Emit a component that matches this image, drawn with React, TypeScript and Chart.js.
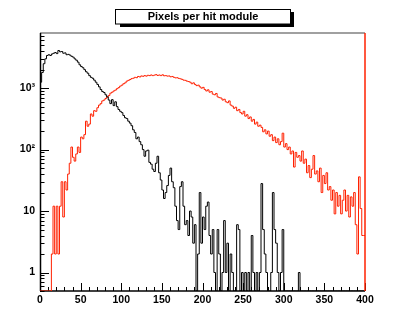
import React, { useEffect, useRef } from 'react';
import { Chart, registerables } from 'chart.js';

Chart.register(...registerables);

const TITLE = 'Pixels per hit module';
const BIN_WIDTH = 2;
const X_MIN = 0;
const X_MAX = 400;
const Y_MIN = 0.5;
const Y_MAX = 7900;
const X_TICK_STEP = 50;
const X_MINOR_STEP = 10;
const Y_TICK_VALUES = [1, 10, 100, 1000];
const Y_TICK_LABELS = ['1', '10', '10²', '10³'];

// black histogram, bins of width 2 starting at 0
const blackCounts = [
  750, 1250, 1800, 2500, 3000, 3400, 3500, 3400, 3600, 3700,
  3800, 3650, 4100, 3900, 3950, 3700, 3750, 3500, 3550, 3450,
  3300, 3200, 3000, 2850, 2650, 2400, 2250, 2150, 2000, 1850,
  1750, 1600, 1500, 1450, 1350, 1250, 1150, 1050, 950, 880,
  850, 780, 720, 640, 560, 650, 520, 600, 500, 450,
  420, 400, 360, 330, 320, 290, 270, 245, 210, 190,
  150, 160, 135, 120, 100, 78, 95, 98, 62, 58,
  48, 44, 60, 78, 42, 32, 22, 16, 20, 26,
  38, 50, 30, 24, 12, 7, 5, 25, 30, 12,
  6, 7, 4, 10, 8, 3, 6, 0, 2, 20,
  3, 8, 5, 12, 14, 4, 2, 5, 1, 0,
  5, 2, 0, 1, 7, 1, 3, 0, 2, 1,
  0, 0, 6, 5, 0, 1, 0, 1, 0, 1,
  0, 4, 1, 0, 1, 0, 1, 28, 5, 2,
  1, 0, 0, 1, 20, 5, 3, 1, 0, 1,
  5, 0, 0, 0, 0, 0, 0, 0, 0, 0,
  1, 0, 0, 0, 0, 0, 0, 0, 0, 0,
  0, 0, 0, 0, 0, 0, 0, 0, 0, 0,
  0, 0, 0, 0, 0, 0, 0, 0, 0, 0,
  0, 0, 0, 0, 0, 0, 0, 0, 0, 0,
];

// red histogram, bins of width 2 starting at 0
const redCounts = [
  0, 0, 0, 0, 0, 0, 0, 0, 2, 12,
  2, 12, 2, 12, 30, 8, 30, 22, 40, 60,
  110, 75, 65, 85, 110, 90, 160, 150, 175, 290,
  240, 260, 380, 350, 430, 420, 480, 530, 560, 620,
  640, 680, 720, 760, 830, 860, 900, 930, 980, 1020,
  1080, 1120, 1180, 1220, 1300, 1340, 1380, 1430, 1450, 1500,
  1480, 1550, 1520, 1580, 1560, 1600, 1570, 1620, 1600, 1640,
  1600, 1630, 1660, 1610, 1640, 1600, 1650, 1590, 1600, 1570,
  1580, 1530, 1550, 1500, 1470, 1480, 1440, 1420, 1390, 1350,
  1340, 1300, 1280, 1250, 1180, 1220, 1150, 1100, 1120, 1050,
  1000, 1030, 950, 900, 940, 860, 880, 800, 780, 820,
  720, 700, 690, 640, 660, 600, 580, 620, 530, 510,
  470, 490, 430, 450, 400, 380, 420, 350, 370, 320,
  340, 290, 310, 260, 280, 240, 250, 230, 195, 210,
  180, 200, 165, 175, 140, 160, 130, 150, 120, 135,
  185, 110, 125, 100, 110, 85, 95, 52, 90, 75,
  80, 65, 95, 60, 70, 42, 55, 35, 48, 80,
  40, 45, 30, 50, 20, 38, 28, 42, 22, 25,
  15, 22, 9, 20, 12, 18, 9, 15, 22, 10,
  18, 8, 17, 12, 20, 6, 2, 36, 11, 4,
];

const toSteps = (counts: number[]) => {
  const pts = counts.map((v, i) => ({ x: X_MIN + i * BIN_WIDTH, y: v > 0 ? v : Y_MIN }));
  const last = counts[counts.length - 1];
  pts.push({ x: X_MIN + counts.length * BIN_WIDTH, y: last > 0 ? last : Y_MIN });
  return pts;
};

const FONT = '"Liberation Sans", Arial, Helvetica, sans-serif';

const rootFrame = {
  id: 'rootFrame',
  beforeDatasetsDraw(chart: any) {
    const { ctx, chartArea, scales } = chart;
    const { left, right, top, bottom } = chartArea;
    const x = scales.x;
    const y = scales.y;
    const seg = (x1: number, y1: number, x2: number, y2: number) => {
      ctx.beginPath();
      ctx.moveTo(x1, y1);
      ctx.lineTo(x2, y2);
      ctx.stroke();
    };
    ctx.save();
    ctx.strokeStyle = '#808080';
    ctx.lineWidth = 1.5;
    seg(left, top, right, top);
    ctx.strokeStyle = '#000';
    ctx.lineWidth = 1.5;
    seg(left + 0.5, top, left + 0.5, bottom);
    seg(left, bottom, right, bottom);
    ctx.lineWidth = 1;
    for (let v = X_MIN; v <= X_MAX; v += X_MINOR_STEP) {
      const px = Math.round(x.getPixelForValue(v)) + 0.5;
      const len = v % X_TICK_STEP === 0 ? 8 : 4;
      seg(px, bottom, px, bottom - len);
    }
    for (let d = 0.1; d <= 10000; d *= 10) {
      for (let m = 1; m <= 9; m++) {
        const v = m * d;
        if (v < Y_MIN * 0.999 || v > Y_MAX) continue;
        const py = Math.round(y.getPixelForValue(v)) + 0.5;
        const len = m === 1 ? 9 : 4.5;
        seg(left, py, left + len, py);
      }
    }
    ctx.restore();
  },
  afterDatasetsDraw(chart: any) {
    const { ctx, chartArea } = chart;
    ctx.save();
    ctx.strokeStyle = '#ff2000';
    ctx.lineWidth = 1.5;
    ctx.beginPath();
    ctx.moveTo(chartArea.right, chartArea.top);
    ctx.lineTo(chartArea.right, chartArea.bottom);
    ctx.stroke();
    ctx.restore();
  },
  afterDraw(chart: any) {
    const { ctx } = chart;
    ctx.save();
    // shadow
    ctx.fillStyle = '#000';
    ctx.fillRect(291, 12, 3, 15);
    ctx.fillRect(120, 24, 174, 3);
    // box
    ctx.fillStyle = '#fff';
    ctx.fillRect(115.5, 9.5, 175, 14.5);
    ctx.strokeStyle = '#000';
    ctx.lineWidth = 1;
    ctx.strokeRect(115.5, 9.5, 175, 14.5);
    ctx.fillStyle = '#000';
    ctx.font = `bold 11px ${FONT}`;
    ctx.textAlign = 'center';
    ctx.textBaseline = 'middle';
    ctx.fillText(TITLE, 203, 17);
    ctx.restore();
  },
};

export default function App() {
  const ref = useRef<HTMLCanvasElement | null>(null);
  useEffect(() => {
    if (!ref.current) return;
    const chart = new Chart(ref.current, {
      type: 'line',
      data: {
        datasets: [
          {
            label: 'black',
            data: toSteps(blackCounts),
            borderColor: '#000000',
            borderWidth: 1,
            pointRadius: 0,
            stepped: 'after',
            fill: false,
          },
          {
            label: 'red',
            data: toSteps(redCounts),
            borderColor: '#ff2000',
            borderWidth: 1,
            pointRadius: 0,
            stepped: 'after',
            fill: false,
          },
        ],
      },
      options: {
        animation: false,
        responsive: false,
        devicePixelRatio: 1,
        layout: { padding: { left: 0, right: 42, top: 33, bottom: 0 } },
        plugins: { legend: { display: false }, title: { display: false }, tooltip: { enabled: false } },
        scales: {
          x: {
            type: 'linear',
            min: X_MIN,
            max: X_MAX,
            grid: { display: false, drawTicks: false },
            border: { display: false },
            ticks: {
              stepSize: X_TICK_STEP,
              autoSkip: false,
              maxRotation: 0,
              padding: 3,
              color: '#000',
              font: { family: FONT, size: 10.5, weight: 'bold' },
            },
            afterFit: (s: any) => { s.height = 34; },
          },
          y: {
            type: 'logarithmic',
            min: Y_MIN,
            max: Y_MAX,
            grid: { display: false, drawTicks: false },
            border: { display: false },
            afterBuildTicks: (s: any) => { s.ticks = Y_TICK_VALUES.map((v) => ({ value: v })); },
            ticks: {
              autoSkip: false,
              padding: 5,
              color: '#000',
              font: { family: FONT, size: 10.5, weight: 'bold' },
              callback: (v: any) => {
                const i = Y_TICK_VALUES.indexOf(Number(v));
                return i >= 0 ? Y_TICK_LABELS[i] : '';
              },
            },
            afterFit: (s: any) => { s.width = 40; },
          },
        },
      },
      plugins: [rootFrame],
    });
    return () => chart.destroy();
  }, []);
  return (
    <div style={{ position: 'fixed', left: 0, top: 0, width: 407, height: 325, background: '#fff' }}>
      <canvas ref={ref} width={407} height={325} style={{ width: 407, height: 325 }} />
    </div>
  );
}
